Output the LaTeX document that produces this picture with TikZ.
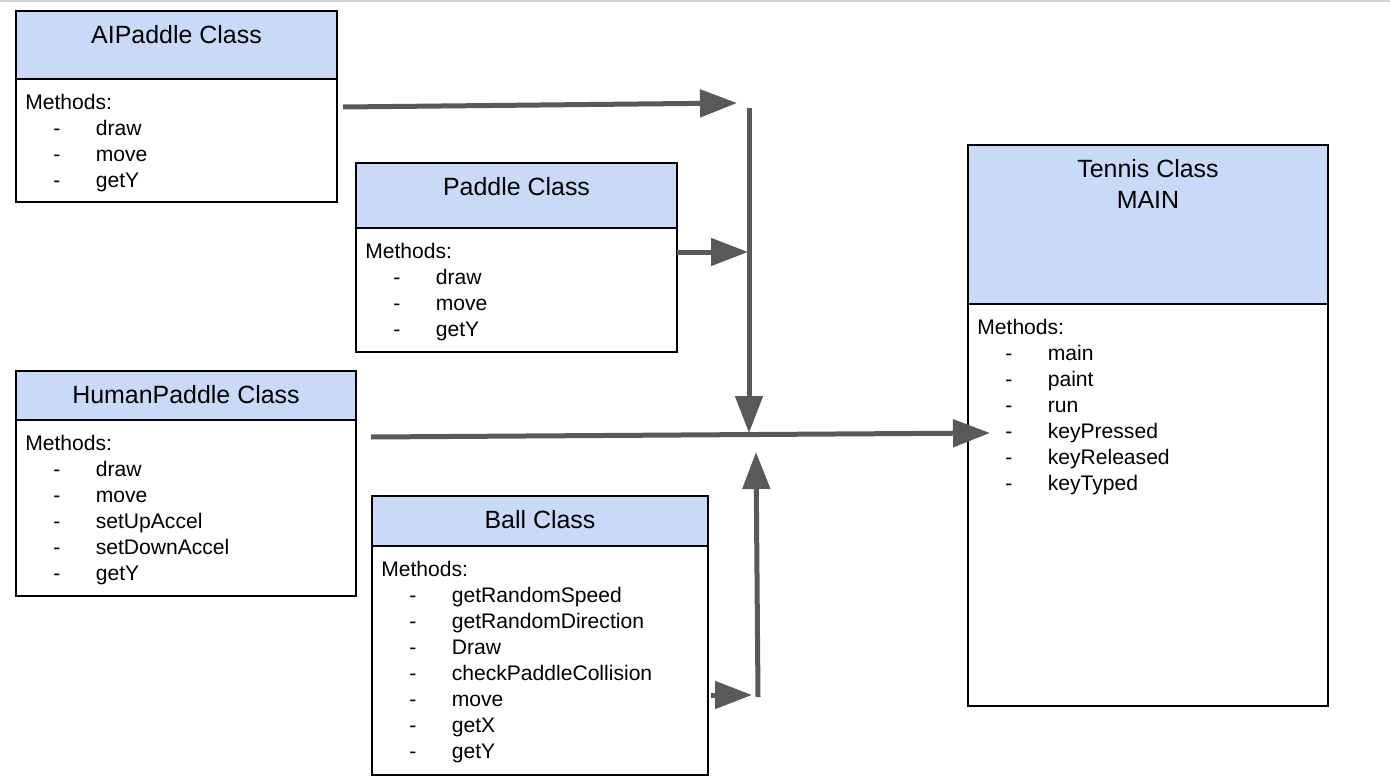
\documentclass[tikz,border=0pt]{standalone}
\usepackage{fontspec}
\setmainfont{Liberation Sans}
\usetikzlibrary{arrows.meta}
\definecolor{headblue}{HTML}{C9DAF8}
\definecolor{linkgrey}{HTML}{595959}
\definecolor{edgegrey}{HTML}{D3D3D3}

\tikzset{
  classbox/.style={draw=black, line width=0.04cm, anchor=north west, inner sep=0pt},
  classhead/.style={classbox, fill=headblue},
  classname/.style={font=\fontsize{14.2}{17.6}\selectfont, anchor=north, inner sep=0pt, align=center},
  methods/.style={font=\fontsize{12}{15}\selectfont, anchor=base west, inner sep=0pt},
  link/.style={draw=linkgrey, line width=0.1cm, -{Triangle[length=0.74cm, width=0.54cm]}}
}

% name, x, y, width, head height, height, title, methods
\newcommand{\umlclass}[8]{
  \node[classbox, minimum width=#4*0.02cm, minimum height=#6*0.02cm] (#1) at (#2,#3) {};
  \node[classhead, minimum width=#4*0.02cm, minimum height=#5*0.02cm] (#1head) at (#2,#3) {};
  \node[classname] (#1title) at ([yshift=-0.31cm]#1head.north) {#7};
  \node[methods] (#1meth) at ([xshift=0.2cm, yshift=-0.59cm]#1head.south west) {Methods:};
  \foreach \m [count=\i] in {#8} {
    \node[methods] (#1dash\i) at ([xshift=0.56cm, yshift={-0.52cm*\i}]#1meth.base west) {-};
    \node[methods] (#1m\i) at ([xshift=1.41cm, yshift={-0.52cm*\i}]#1meth.base west) {\m};
  }
}

\begin{document}
\begin{tikzpicture}[x=0.02cm, y=-0.02cm]
  \useasboundingbox (0,0) rectangle (1390,784);
  \draw[edgegrey, line width=0.05cm] (0,1) -- (1390,1);

  \umlclass{ai}{15}{10}{321}{68}{191}{AIPaddle Class}{draw, move, getY}
  \umlclass{paddle}{355}{162}{321}{65}{189}{Paddle Class}{draw, move, getY}
  \umlclass{human}{15}{370}{340}{49}{225}{HumanPaddle Class}{draw, move, setUpAccel, setDownAccel, getY}
  \umlclass{ball}{371}{495}{336}{50}{279}{Ball Class}{getRandomSpeed, getRandomDirection, Draw, checkPaddleCollision, move, getX, getY}
  \umlclass{tennis}{967}{144}{360}{159}{561}{Tennis Class\\MAIN}{main, paint, run, keyPressed, keyReleased, keyTyped}

  % connectors
  \coordinate (aiout) at (343,107);
  \coordinate (aiin) at (737,103);
  \coordinate (jtop) at (749,108);
  \coordinate (jmid) at (749,433);
  \coordinate (paddleout) at (677,252);
  \coordinate (paddlein) at (748,252);
  \coordinate (humanout) at (371,437);
  \coordinate (tennisin) at (990,433);
  \coordinate (ballout) at (711,695);
  \coordinate (ballin) at (752,695);
  \coordinate (jlow) at (758,697);
  \coordinate (jup) at (756,452);

  \draw[link] (aiout) -- (aiin);
  \draw[link] (paddleout) -- (paddlein);
  \draw[link] (jtop) -- (jmid);
  \draw[link] (humanout) -- (tennisin);
  \draw[link] (ballout) -- (ballin);
  \draw[link] (jlow) -- (jup);
\end{tikzpicture}
\end{document}
